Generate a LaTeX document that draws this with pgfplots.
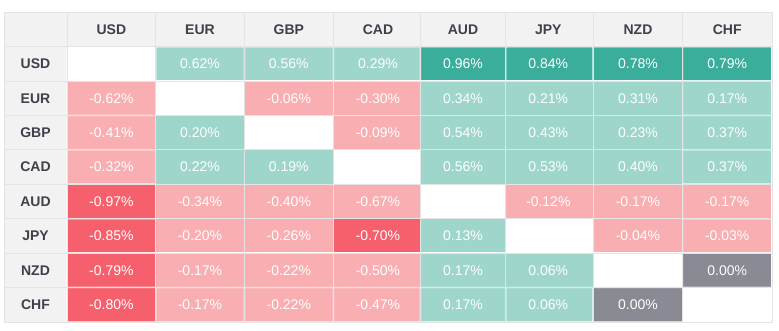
\documentclass[border=0pt]{standalone}
\usepackage{fontspec}
\setmainfont{Liberation Sans}
\usepackage{pgfplots}
\usepackage{pgfplotstable}
\pgfplotsset{compat=1.18}
\definecolor{hdr}{RGB}{242,242,242}
\definecolor{bord}{RGB}{228,228,228}
\definecolor{hdrtext}{RGB}{64,64,76}
% c: 0 = diagonal (white), 1 = light green, 2 = dark green, 3 = light red, 4 = dark red, 5 = grey (zero)
\pgfplotstableread{
x y c v
111.35 63.9 0 0
200 63.9 1 0.62
288.8 63.9 1 0.56
378 63.9 1 0.29
463 63.9 2 0.96
548.3 63.9 2 0.84
638 63.9 2 0.78
727.2 63.9 2 0.79
111.35 98.3 3 -0.62
200 98.3 0 0
288.8 98.3 3 -0.06
378 98.3 3 -0.30
463 98.3 1 0.34
548.3 98.3 1 0.21
638 98.3 1 0.31
727.2 98.3 1 0.17
111.35 132.7 3 -0.41
200 132.7 1 0.20
288.8 132.7 0 0
378 132.7 3 -0.09
463 132.7 1 0.54
548.3 132.7 1 0.43
638 132.7 1 0.23
727.2 132.7 1 0.37
111.35 167.1 3 -0.32
200 167.1 1 0.22
288.8 167.1 1 0.19
378 167.1 0 0
463 167.1 1 0.56
548.3 167.1 1 0.53
638 167.1 1 0.40
727.2 167.1 1 0.37
111.35 201.5 4 -0.97
200 201.5 3 -0.34
288.8 201.5 3 -0.40
378 201.5 3 -0.67
463 201.5 0 0
548.3 201.5 3 -0.12
638 201.5 3 -0.17
727.2 201.5 3 -0.17
111.35 235.9 4 -0.85
200 235.9 3 -0.20
288.8 235.9 3 -0.26
378 235.9 4 -0.70
463 235.9 1 0.13
548.3 235.9 0 0
638 235.9 3 -0.04
727.2 235.9 3 -0.03
111.35 270.3 4 -0.79
200 270.3 3 -0.17
288.8 270.3 3 -0.22
378 270.3 3 -0.50
463 270.3 1 0.17
548.3 270.3 1 0.06
638 270.3 0 0
727.2 270.3 5 0.00
111.35 304.7 4 -0.80
200 304.7 3 -0.17
288.8 304.7 3 -0.22
378 304.7 3 -0.47
463 304.7 1 0.17
548.3 304.7 1 0.06
638 304.7 5 0.00
727.2 304.7 0 0
}\cells
\pgfplotstableread{
x y name
111.35 29.5 USD
200 29.5 EUR
288.8 29.5 GBP
378 29.5 CAD
463 29.5 AUD
548.3 29.5 JPY
638 29.5 NZD
727.2 29.5 CHF
35.5 63.9 USD
35.5 98.3 EUR
35.5 132.7 GBP
35.5 167.1 CAD
35.5 201.5 AUD
35.5 235.9 JPY
35.5 270.3 NZD
35.5 304.7 CHF
}\heads
\begin{document}
\begin{tikzpicture}
\begin{axis}[
  x=1pt, y=1pt, y dir=reverse,
  xmin=4, xmax=772, ymin=12.3, ymax=322,
  axis background/.style={fill=hdr},
  axis line style={draw=bord, line width=0.8pt},
  xtick={67,155.7,244.4,333.4,420.65,505.65,593.15,682.6},
  ytick={46.7,81.1,115.5,149.9,184.3,218.7,253.1,287.5},
  xticklabels={}, yticklabels={},
  major tick length=0pt,
  grid=major, grid style={draw=bord, line width=0.8pt},
  clip=false,
  colormap={cells}{rgb255=(255,255,255) rgb255=(158,214,204) rgb255=(58,174,154) rgb255=(249,174,178) rgb255=(246,96,109) rgb255=(137,138,147)},
  colormap access=direct,
]
\coordinate (bbsw) at (axis cs:0,331);
\coordinate (bbne) at (axis cs:779,0);
\addplot[matrix plot, mesh/cols=8, mesh/rows=8, point meta=explicit,
  shader=faceted, faceted color=white, line width=1.2pt]
  table[x=x, y=y, meta=c] {\cells};
\addplot[draw=none, mark=none, point meta=explicit,
  restrict expr to domain={\thisrow{c}}{0.5:10},
  nodes near coords={\pgfmathprintnumber[fixed,fixed zerofill,precision=2,assume math mode=true]{\pgfplotspointmeta}\%},
  every node near coord/.style={anchor=center, text=white, font=\fontsize{14}{16}\selectfont, inner sep=0pt}]
  table[x=x, y=y, meta=v] {\cells};
\addplot[draw=none, mark=none, point meta=explicit symbolic,
  nodes near coords,
  every node near coord/.style={anchor=center, text=hdrtext, font=\fontsize{14}{16}\selectfont\bfseries, inner sep=0pt}]
  table[x=x, y=y, meta=name] {\heads};
\end{axis}
\pgfresetboundingbox
\path[use as bounding box] (bbsw) rectangle (bbne);
\end{tikzpicture}
\end{document}
